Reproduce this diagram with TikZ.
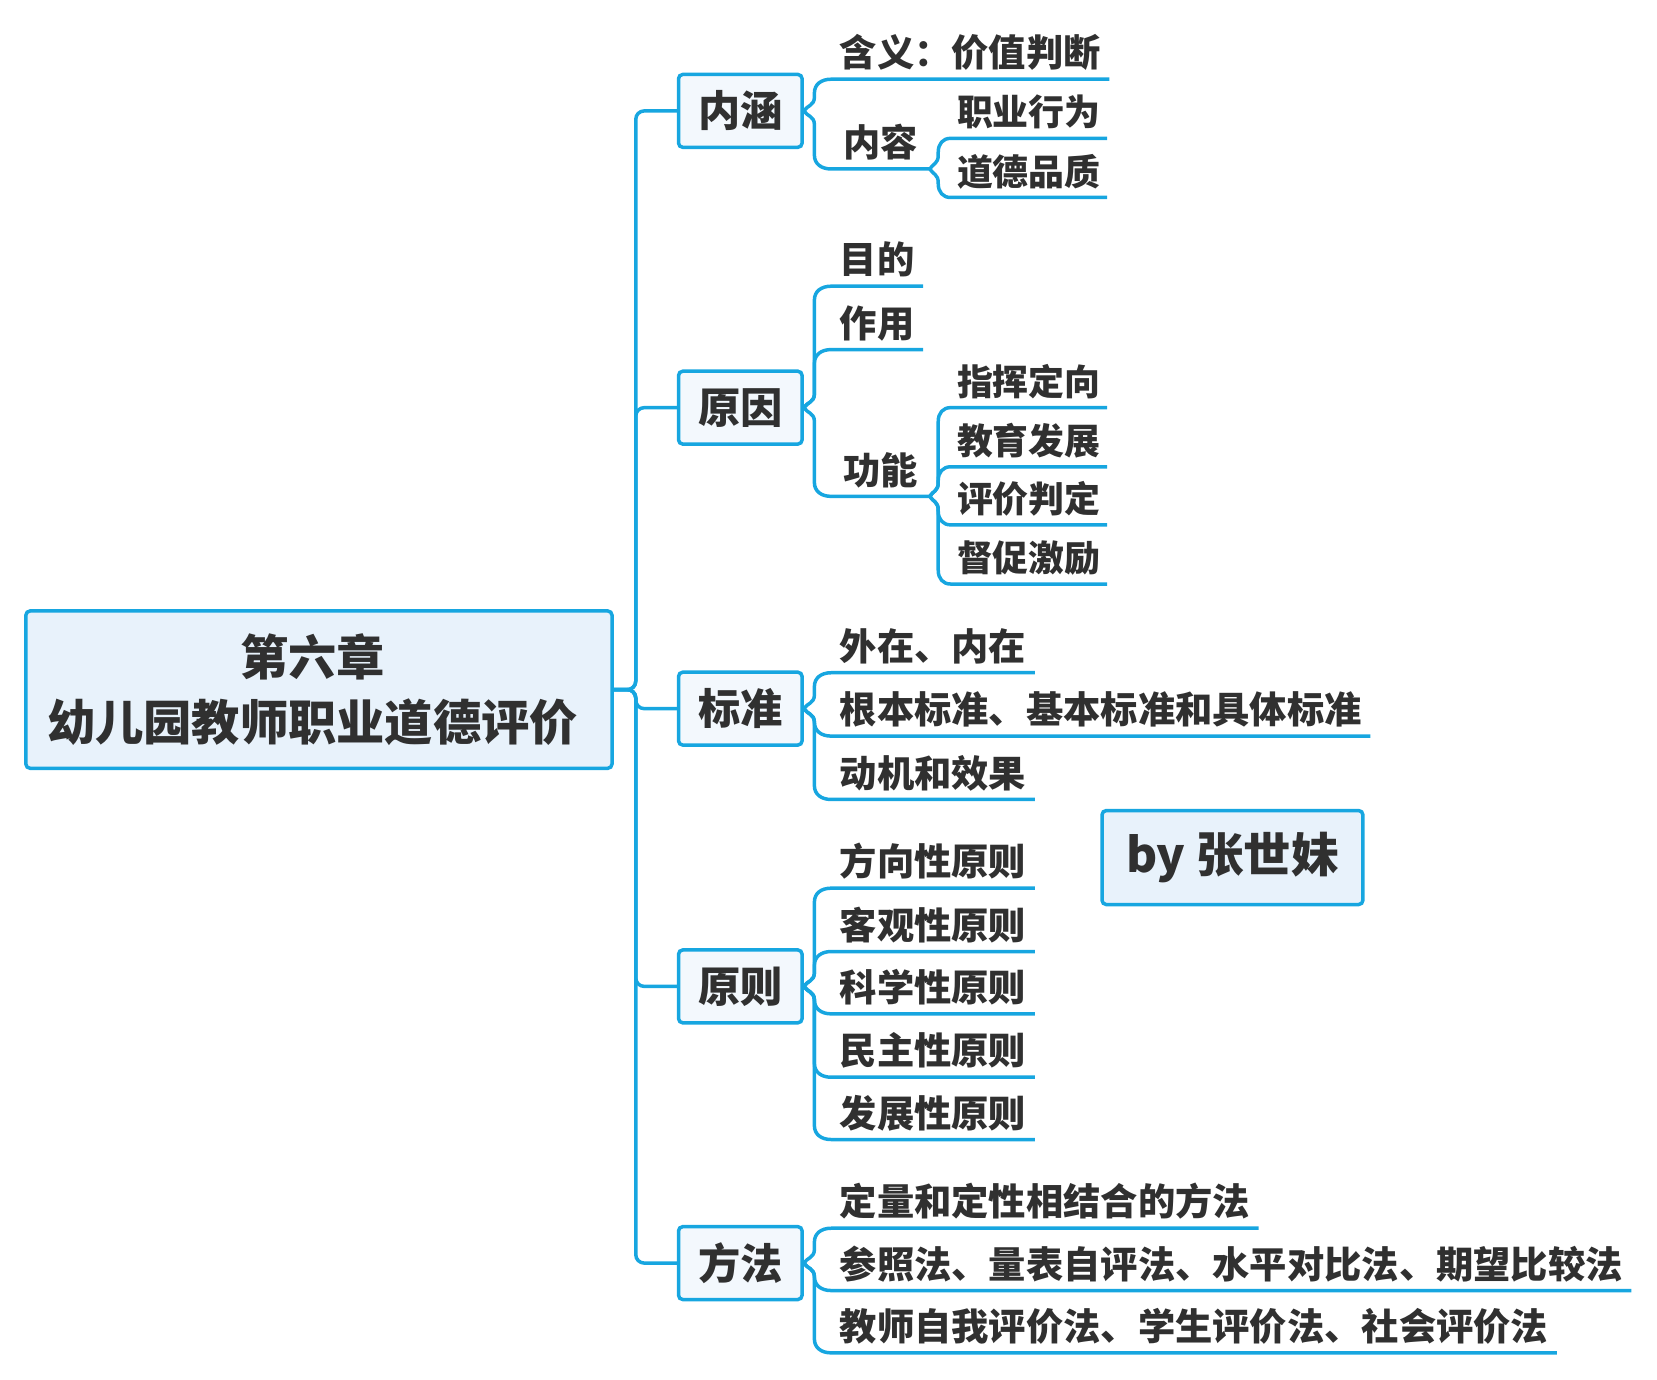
\documentclass[tikz,border=0pt]{standalone}
\usepackage{fontspec}
\setmainfont{Noto Sans CJK SC}
\usetikzlibrary{calc}
\definecolor{lineblue}{RGB}{23,166,224}
\definecolor{rootfill}{RGB}{232,242,251}
\definecolor{lfill}{RGB}{243,248,253}
\definecolor{txt}{RGB}{48,48,48}
\begin{document}
\begin{tikzpicture}[x=1pt,y=-1pt,
  conn/.style={draw=lineblue, line width=3.3pt, line join=round},
  branch/.style={to path={let \p1=(\tikztostart),\p2=(\tikztotarget),\n1={sign(\y2-\y1)} in
     .. controls (\x1+3pt,\y1+\n1*5pt) and (\x1+#1,\y1+\n1*5pt) .. (\x1+#1,\y1+\n1*13pt)
     -- (\x1+#1,\y2-\n1*13pt)
     .. controls (\x1+#1,\y2-\n1*5pt) and (\x1+#1+0.4*\x2-0.4*\x1-0.4*#1,\y2) .. (\tikztotarget)}},
  branch/.default=10pt,
  topic/.style={draw=lineblue, line width=3.3pt, rounded corners=4pt, fill=lfill, text=txt,
     font=\fontsize{40}{48}\selectfont\bfseries, minimum width=117pt, minimum height=69pt, inner sep=0pt},
  leaf/.style={anchor=south west, inner xsep=8pt, inner ysep=11.5pt, text depth=0pt, text=txt,
     font=\fontsize{35.3}{40}\selectfont\bfseries},
  subleaf/.style={leaf, inner xsep=6pt, font=\fontsize{34}{40}\selectfont\bfseries}
]
\useasboundingbox (0,0) rectangle (1569,1306);

% root
\node[topic, fill=rootfill, minimum width=555pt, minimum height=149pt, align=center,
  font=\fontsize{45.7}{62}\selectfont\bfseries] (root) at (302,653)
  {第六章\hspace*{12pt}\\幼儿园教师职业道德评价\hspace*{12pt}};

% signature
\node[topic, fill=rootfill, minimum width=247pt, minimum height=89pt,
  font=\fontsize{45}{54}\selectfont\bfseries] (by) at (1167,812) {by 张世妹};

% level 1
\node[topic] (nh) at (701,105) {内涵};
\node[topic] (yy) at (701,386) {原因};
\node[topic] (bz) at (701,671) {标准};
\node[topic] (yz) at (701,934) {原则};
\node[topic] (ff) at (701,1196) {方法};

\coordinate (tj) at (602,653);
\foreach \t in {nh,yy,bz,yz,ff}
  \draw[conn, rounded corners=8pt] (root.east) -- (tj) |- (\t.west);

% 内涵
\node[leaf] (hy) at (787,75) {含义：价值判断};
\node[leaf, minimum width=93pt] (nr) at (787,160) {内容};
\node[subleaf] (zy) at (900,131) {职业行为};
\node[subleaf] (dd) at (900,187) {道德品质};
\foreach \c in {hy,nr} \draw[conn] (nh.east) to[branch] (\c.south west) -- (\c.south east);
\foreach \c in {zy,dd} \draw[conn] (nr.south east) to[branch=8pt] (\c.south west) -- (\c.south east);

% 原因
\node[leaf] (md) at (787,271) {目的};
\node[leaf] (zyo) at (787,331) {作用};
\node[leaf, minimum width=93pt] (gn) at (787,470) {功能};
\node[subleaf] (zh) at (900,386) {指挥定向};
\node[subleaf] (jy) at (900,442) {教育发展};
\node[subleaf] (pj) at (900,497) {评价判定};
\node[subleaf] (dc) at (900,553) {督促激励};
\foreach \c in {md,zyo,gn} \draw[conn] (yy.east) to[branch] (\c.south west) -- (\c.south east);
\foreach \c in {zh,jy,pj,dc} \draw[conn] (gn.south east) to[branch=8pt] (\c.south west) -- (\c.south east);

% 标准
\node[leaf] (wz) at (787,637) {外在、内在};
\node[leaf] (gb) at (787,697) {根本标准、基本标准和具体标准};
\node[leaf] (dj) at (787,757) {动机和效果};
\foreach \c in {wz,gb,dj} \draw[conn] (bz.east) to[branch] (\c.south west) -- (\c.south east);

% 原则
\node[leaf] (fx) at (787,841) {方向性原则};
\node[leaf] (kg) at (787,901) {客观性原则};
\node[leaf] (kx) at (787,960) {科学性原则};
\node[leaf] (mz) at (787,1020) {民主性原则};
\node[leaf] (fz) at (787,1079) {发展性原则};
\foreach \c in {fx,kg,kx,mz,fz} \draw[conn] (yz.east) to[branch] (\c.south west) -- (\c.south east);

% 方法
\node[leaf] (dl) at (787,1163) {定量和定性相结合的方法};
\node[leaf] (cz) at (787,1222) {参照法、量表自评法、水平对比法、期望比较法};
\node[leaf] (js) at (787,1281) {教师自我评价法、学生评价法、社会评价法};
\foreach \c in {dl,cz,js} \draw[conn] (ff.east) to[branch] (\c.south west) -- (\c.south east);
\end{tikzpicture}
\end{document}
